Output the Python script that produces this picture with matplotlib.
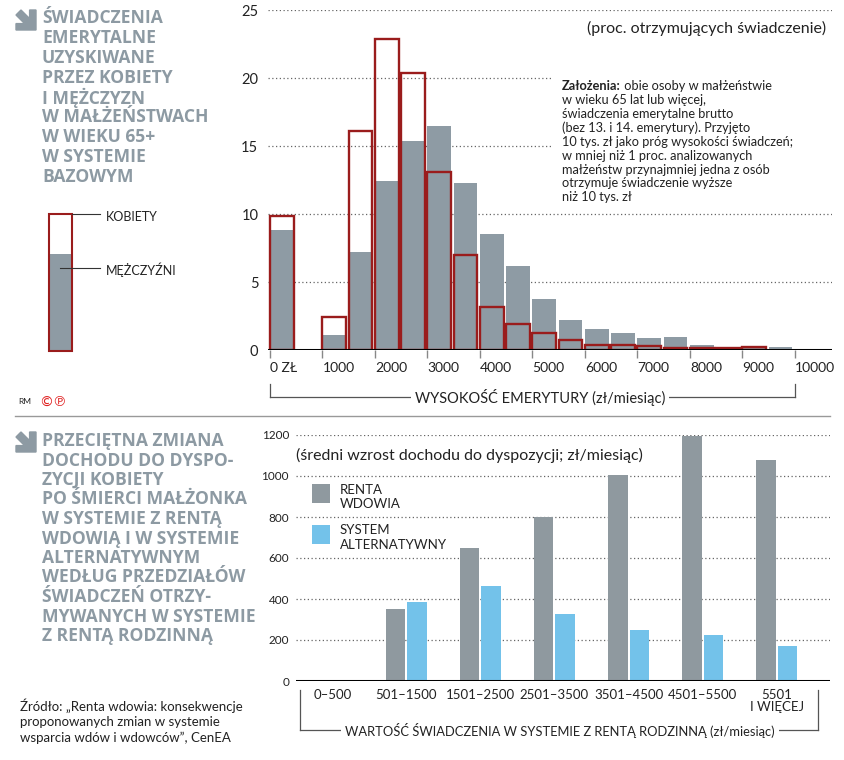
import matplotlib.pyplot as plt
from matplotlib.patches import Rectangle, Polygon
from matplotlib.lines import Line2D
from matplotlib.text import Annotation

# --- data: top histogram (percent receiving benefit), bins of 500 zl ---
bin_starts = list(range(0, 10000, 500))
men = [8.8, 0, 1.07, 7.2, 12.45, 15.35, 16.5, 12.3, 8.55, 6.15,
       3.75, 2.17, 1.56, 1.27, 0.85, 0.98, 0.39, 0.15, 0.32, 0.22]
women = [9.85, 0, 2.39, 16.1, 22.9, 20.4, 13.1, 6.98, 3.17, 1.9,
         1.27, 0.73, 0.37, 0.37, 0.3, 0.17, 0.17, 0.15, 0.22, 0]
x_ticks = list(range(0, 10001, 1000))
x_tick_labels = ["0 ZŁ"] + [str(v) for v in x_ticks[1:]]

# --- data: bottom chart (average change of disposable income, zl/month) ---
ranges = ["0–500", "501–1500", "1501–2500", "2501–3500", "3501–4500",
          "4501–5500", "5501\nI WIĘCEJ"]
renta_wdowia = [0, 351, 651, 800, 1003, 1195, 1078]
system_alt = [0, 385, 465, 325, 248, 224, 171]

GREY = "#8e9ba4"
RED = "#9a1c1c"
BLUE = "#73c2ea"
TITLE = "#8d9aa3"
TXT = "#222222"
FONT = "Lato"

plt.rcParams["font.family"] = [FONT, "DejaVu Sans"]

fig = plt.figure(figsize=(8.45, 7.6), dpi=100)
W, H = 845, 760


def fx(px):
    return px / W


def fy(py):
    return 1 - py / H


def line(x0, y0, x1, y1, **kw):
    fig.add_artist(Line2D([fx(x0), fx(x1)], [fy(y0), fy(y1)], **kw))


def arrow_icon(x, y, s):
    pts = [(0, 0.25), (0.25, 0), (0.68, 0.43), (0.68, 0), (1, 0), (1, 1),
           (0, 1), (0, 0.68), (0.43, 0.68)]
    fig.add_artist(Polygon([(fx(x + px * s), fy(y + py * s)) for px, py in pts],
                           closed=True, color=TITLE, transform=fig.transFigure))


# ================= top chart =================
ax1 = fig.add_axes([fx(268), fy(350), (832 - 268) / W, 340 / H])
ax1.set_xlim(-38, 10705)
ax1.set_ylim(0, 25)
for s in ax1.spines.values():
    s.set_visible(False)
for v in range(5, 26, 5):
    ax1.axhline(v, color="#666666", lw=0.9, ls=(0, (1, 2)), zorder=0.5)
ax1.axhline(0, color="black", lw=2.2, zorder=4)

ax1.bar(bin_starts, men, width=450, align="edge", color=GREY, zorder=2)
wx = [b for b, v in zip(bin_starts, women) if v > 0]
wv = [v for v in women if v > 0]
ax1.bar(wx, wv, width=450, align="edge", facecolor="none",
        edgecolor=RED, lw=1.7, zorder=3)

ax1.set_xticks(x_ticks)
ax1.set_xticklabels(x_tick_labels, ha="left", fontsize=10, color=TXT)
ax1.tick_params(axis="x", length=6, width=1, color="#888888", pad=3)
ax1.set_yticks(range(0, 26, 5))
ax1.tick_params(axis="y", length=0, pad=7, labelsize=10.5, labelcolor=TXT)

# white box behind notes
fig.add_artist(Rectangle((fx(553), fy(205)), fx(832) - fx(553), (205 - 62) / H,
                         facecolor="white", edgecolor="none",
                         transform=fig.transFigure, zorder=1))

fig.text(fx(826), fy(28), "(proc. otrzymujących świadczenie)", ha="right",
         va="center", fontsize=11.5, color=TXT)

note_lines = [
    "w wieku 65 lat lub więcej,",
    "świadczenia emerytalne brutto",
    "(bez 13. i 14. emerytury). Przyjęto",
    "10 tys. zł jako próg wysokości świadczeń;",
    "w mniej niż 1 proc. analizowanych",
    "małżeństw przynajmniej jedna z osób",
    "otrzymuje świadczenie wyższe",
    "niż 10 tys. zł",
]
bold = fig.text(fx(562), fy(86), "Założenia:", fontsize=9.2, fontweight="bold",
                color=TXT, va="center", zorder=5)
fig.add_artist(Annotation(" obie osoby w małżeństwie", xy=(1, 0.5), xycoords=bold,
                          fontsize=9.2, color=TXT, va="center", ha="left",
                          zorder=5))
for i, t in enumerate(note_lines):
    fig.text(fx(562), fy(100 + i * 13.9), t, fontsize=9.2, color=TXT,
             va="center", zorder=5)

# bracket under top axis
line(270, 384, 270, 397, color="#555555", lw=0.9)
line(795, 384, 795, 397, color="#555555", lw=0.9)
line(270, 397, 795, 397, color="#555555", lw=0.9)
fig.text(fx(540), fy(397), "WYSOKOŚĆ EMERYTURY (zł/miesiąc)", ha="center",
         va="center", fontsize=10.5, color=TXT,
         bbox=dict(facecolor="white", edgecolor="none", pad=3))

# top title
arrow_icon(16, 10, 20)
title1 = ["ŚWIADCZENIA", "EMERYTALNE", "UZYSKIWANE", "PRZEZ KOBIETY",
          "I MĘŻCZYZN", "W MAŁŻEŃSTWACH", "W WIEKU 65+", "W SYSTEMIE", "BAZOWYM"]
for i, t in enumerate(title1):
    fig.text(fx(42), fy(18 + i * 19.9), t, fontsize=12.6, fontweight="bold",
             color=TITLE, va="center", family=["Open Sans", "DejaVu Sans"])

# top legend
fig.add_artist(Rectangle((fx(49), fy(351)), 23 / W, (351 - 254) / H,
                         facecolor=GREY, edgecolor="none", transform=fig.transFigure))
fig.add_artist(Rectangle((fx(49), fy(351)), 23 / W, (351 - 214) / H,
                         facecolor="none", edgecolor=RED, lw=1.5,
                         transform=fig.transFigure))
line(72, 214, 100, 214, color="#333333", lw=0.8)
line(60, 268, 100, 268, color="#333333", lw=0.8)
fig.text(fx(106), fy(217), "KOBIETY", fontsize=9, color=TXT, va="center")
fig.text(fx(106), fy(270), "MĘŻCZYŹNI", fontsize=9, color=TXT, va="center")

fig.text(fx(18), fy(402), "RM", fontsize=6, color=TXT, va="center")
fig.text(fx(39), fy(402), "©℗", fontsize=10, color="#e02020", va="center",
         family="DejaVu Sans")

line(15, 416, 830, 416, color="#999999", lw=1)

# ================= bottom chart =================
ax2 = fig.add_axes([fx(296), fy(681), (830 - 296) / W, 246 / H])
ax2.set_xlim(-0.49, 6.72)
ax2.set_ylim(0, 1200)
for s in ax2.spines.values():
    s.set_visible(False)
for v in range(200, 1201, 200):
    ax2.axhline(v, color="#666666", lw=0.9, ls=(0, (1, 2)), zorder=0.5)
ax2.axhline(0, color="black", lw=2.2, zorder=4)

idx = list(range(len(ranges)))
bw = 0.265
ax2.bar([i - 0.146 for i in idx], renta_wdowia, width=bw, color="#8f999f", zorder=2)
ax2.bar([i + 0.146 for i in idx], system_alt, width=bw, color=BLUE, zorder=2)

ax2.set_xticks(idx)
ax2.set_xticklabels(ranges, fontsize=9.5, color=TXT, linespacing=0.95)
ax2.tick_params(axis="x", length=0, pad=6)
ax2.set_yticks(range(0, 1201, 200))
ax2.tick_params(axis="y", length=0, pad=5, labelsize=8.5, labelcolor=TXT)

fig.text(fx(296), fy(455), "(średni wzrost dochodu do dyspozycji; zł/miesiąc)",
         fontsize=11.5, color=TXT, va="center")

fig.add_artist(Rectangle((fx(312), fy(503)), 18 / W, 19 / H, facecolor="#8f999f",
                         edgecolor="none", transform=fig.transFigure))
fig.add_artist(Rectangle((fx(312), fy(544)), 18 / W, 19 / H, facecolor=BLUE,
                         edgecolor="none", transform=fig.transFigure))
fig.text(fx(340), fy(490), "RENTA", fontsize=9.5, color=TXT, va="center")
fig.text(fx(340), fy(504), "WDOWIA", fontsize=9.5, color=TXT, va="center")
fig.text(fx(340), fy(530), "SYSTEM", fontsize=9.5, color=TXT, va="center")
fig.text(fx(340), fy(545), "ALTERNATYWNY", fontsize=9.5, color=TXT, va="center")

line(300, 690, 300, 730, color="#555555", lw=0.9)
line(818, 690, 818, 730, color="#555555", lw=0.9)
line(300, 730, 818, 730, color="#555555", lw=0.9)
fig.text(fx(560), fy(730),
         "WARTOŚĆ ŚWIADCZENIA W SYSTEMIE Z RENTĄ RODZINNĄ (zł/miesiąc)",
         ha="center", va="center", fontsize=9.3, color=TXT,
         bbox=dict(facecolor="white", edgecolor="none", pad=3))

arrow_icon(16, 432, 20)
title2 = ["PRZECIĘTNA ZMIANA", "DOCHODU DO DYSPO-", "ZYCJI KOBIETY",
          "PO ŚMIERCI MAŁŻONKA", "W SYSTEMIE Z RENTĄ", "WDOWIĄ I W SYSTEMIE",
          "ALTERNATYWNYM", "WEDŁUG PRZEDZIAŁÓW", "ŚWIADCZEŃ OTRZY-",
          "MYWANYCH W SYSTEMIE", "Z RENTĄ RODZINNĄ"]
for i, t in enumerate(title2):
    fig.text(fx(42), fy(441 + i * 19.5), t, fontsize=12.6, fontweight="bold",
             color=TITLE, va="center", family=["Open Sans", "DejaVu Sans"])

source = ["Źródło: „Renta wdowia: konsekwencje",
          "proponowanych zmian w systemie",
          "wsparcia wdów i wdowców”, CenEA"]
for i, t in enumerate(source):
    fig.text(fx(20), fy(706 + i * 16), t, fontsize=9.5, color=TXT, va="center")

fig.savefig("out.png", dpi=100)
